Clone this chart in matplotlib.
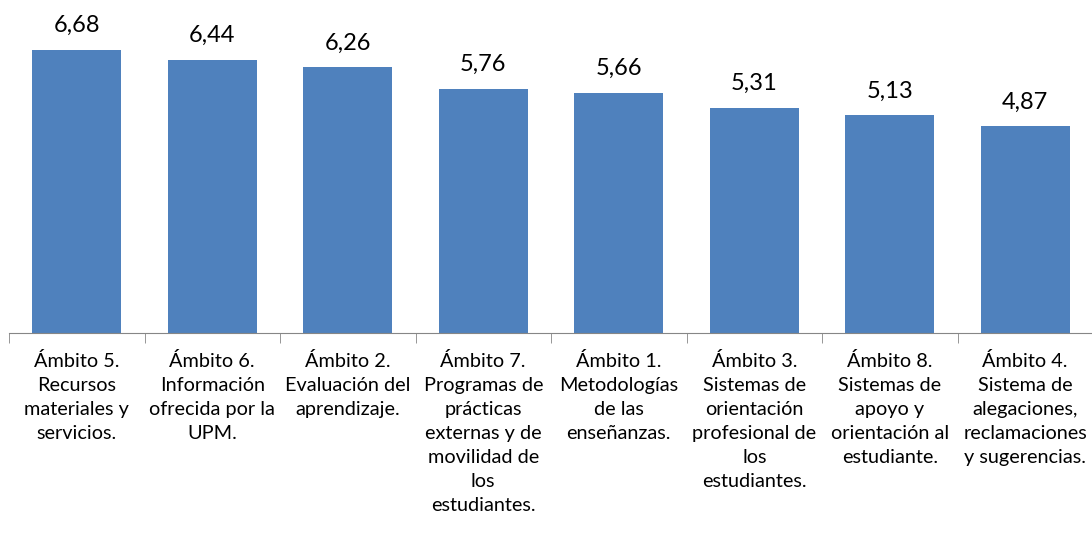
import matplotlib.pyplot as plt
import numpy as np

categories = [
    "Ámbito 5.\nRecursos\nmateriales y\nservicios.",
    "Ámbito 6.\nInformación\nofrecida por la\nUPM.",
    "Ámbito 2.\nEvaluación del\naprendizaje.",
    "Ámbito 7.\nProgramas de\nprácticas\nexternas y de\nmovilidad de\nlos\nestudiantes.",
    "Ámbito 1.\nMetodologías\nde las\nenseñanzas.",
    "Ámbito 3.\nSistemas de\norientación\nprofesional de\nlos\nestudiantes.",
    "Ámbito 8.\nSistemas de\napoyo y\norientación al\nestudiante.",
    "Ámbito 4.\nSistema de\nalegaciones,\nreclamaciones\ny sugerencias.",
]
values = [6.68, 6.44, 6.26, 5.76, 5.66, 5.31, 5.13, 4.87]
value_labels = ["6,68", "6,44", "6,26", "5,76", "5,66", "5,31", "5,13", "4,87"]

plt.rcParams['font.family'] = ['Lato', 'DejaVu Sans']

fig = plt.figure(figsize=(10.92, 5.34), dpi=100)
ax = fig.add_axes([9 / 1092, (534 - 333) / 534, 1084 / 1092, 333 / 534])

x = np.arange(len(values))
bars = ax.bar(x, values, width=0.66, color="#4F81BD")

for xi, v, lab in zip(x, values, value_labels):
    ax.text(xi, v + 0.32, lab, ha="center", va="bottom", fontsize=17, color="black")

ax.set_xlim(-0.5, len(values) - 0.5)
ax.set_ylim(0, 7.85)
ax.set_yticks([])

for s in ["top", "right", "left"]:
    ax.spines[s].set_visible(False)
ax.spines["bottom"].set_color("#868686")

# tick marks between categories
ax.set_xticks(np.arange(len(values) + 1) - 0.5, minor=True)
ax.tick_params(axis="x", which="minor", length=7, color="#868686", direction="out")
ax.set_xticks(x)
ax.set_xticklabels(categories, fontsize=14.3, linespacing=1.5, va="top")
ax.tick_params(axis="x", which="major", length=0, pad=14)

fig.savefig("out.png", dpi=100)
